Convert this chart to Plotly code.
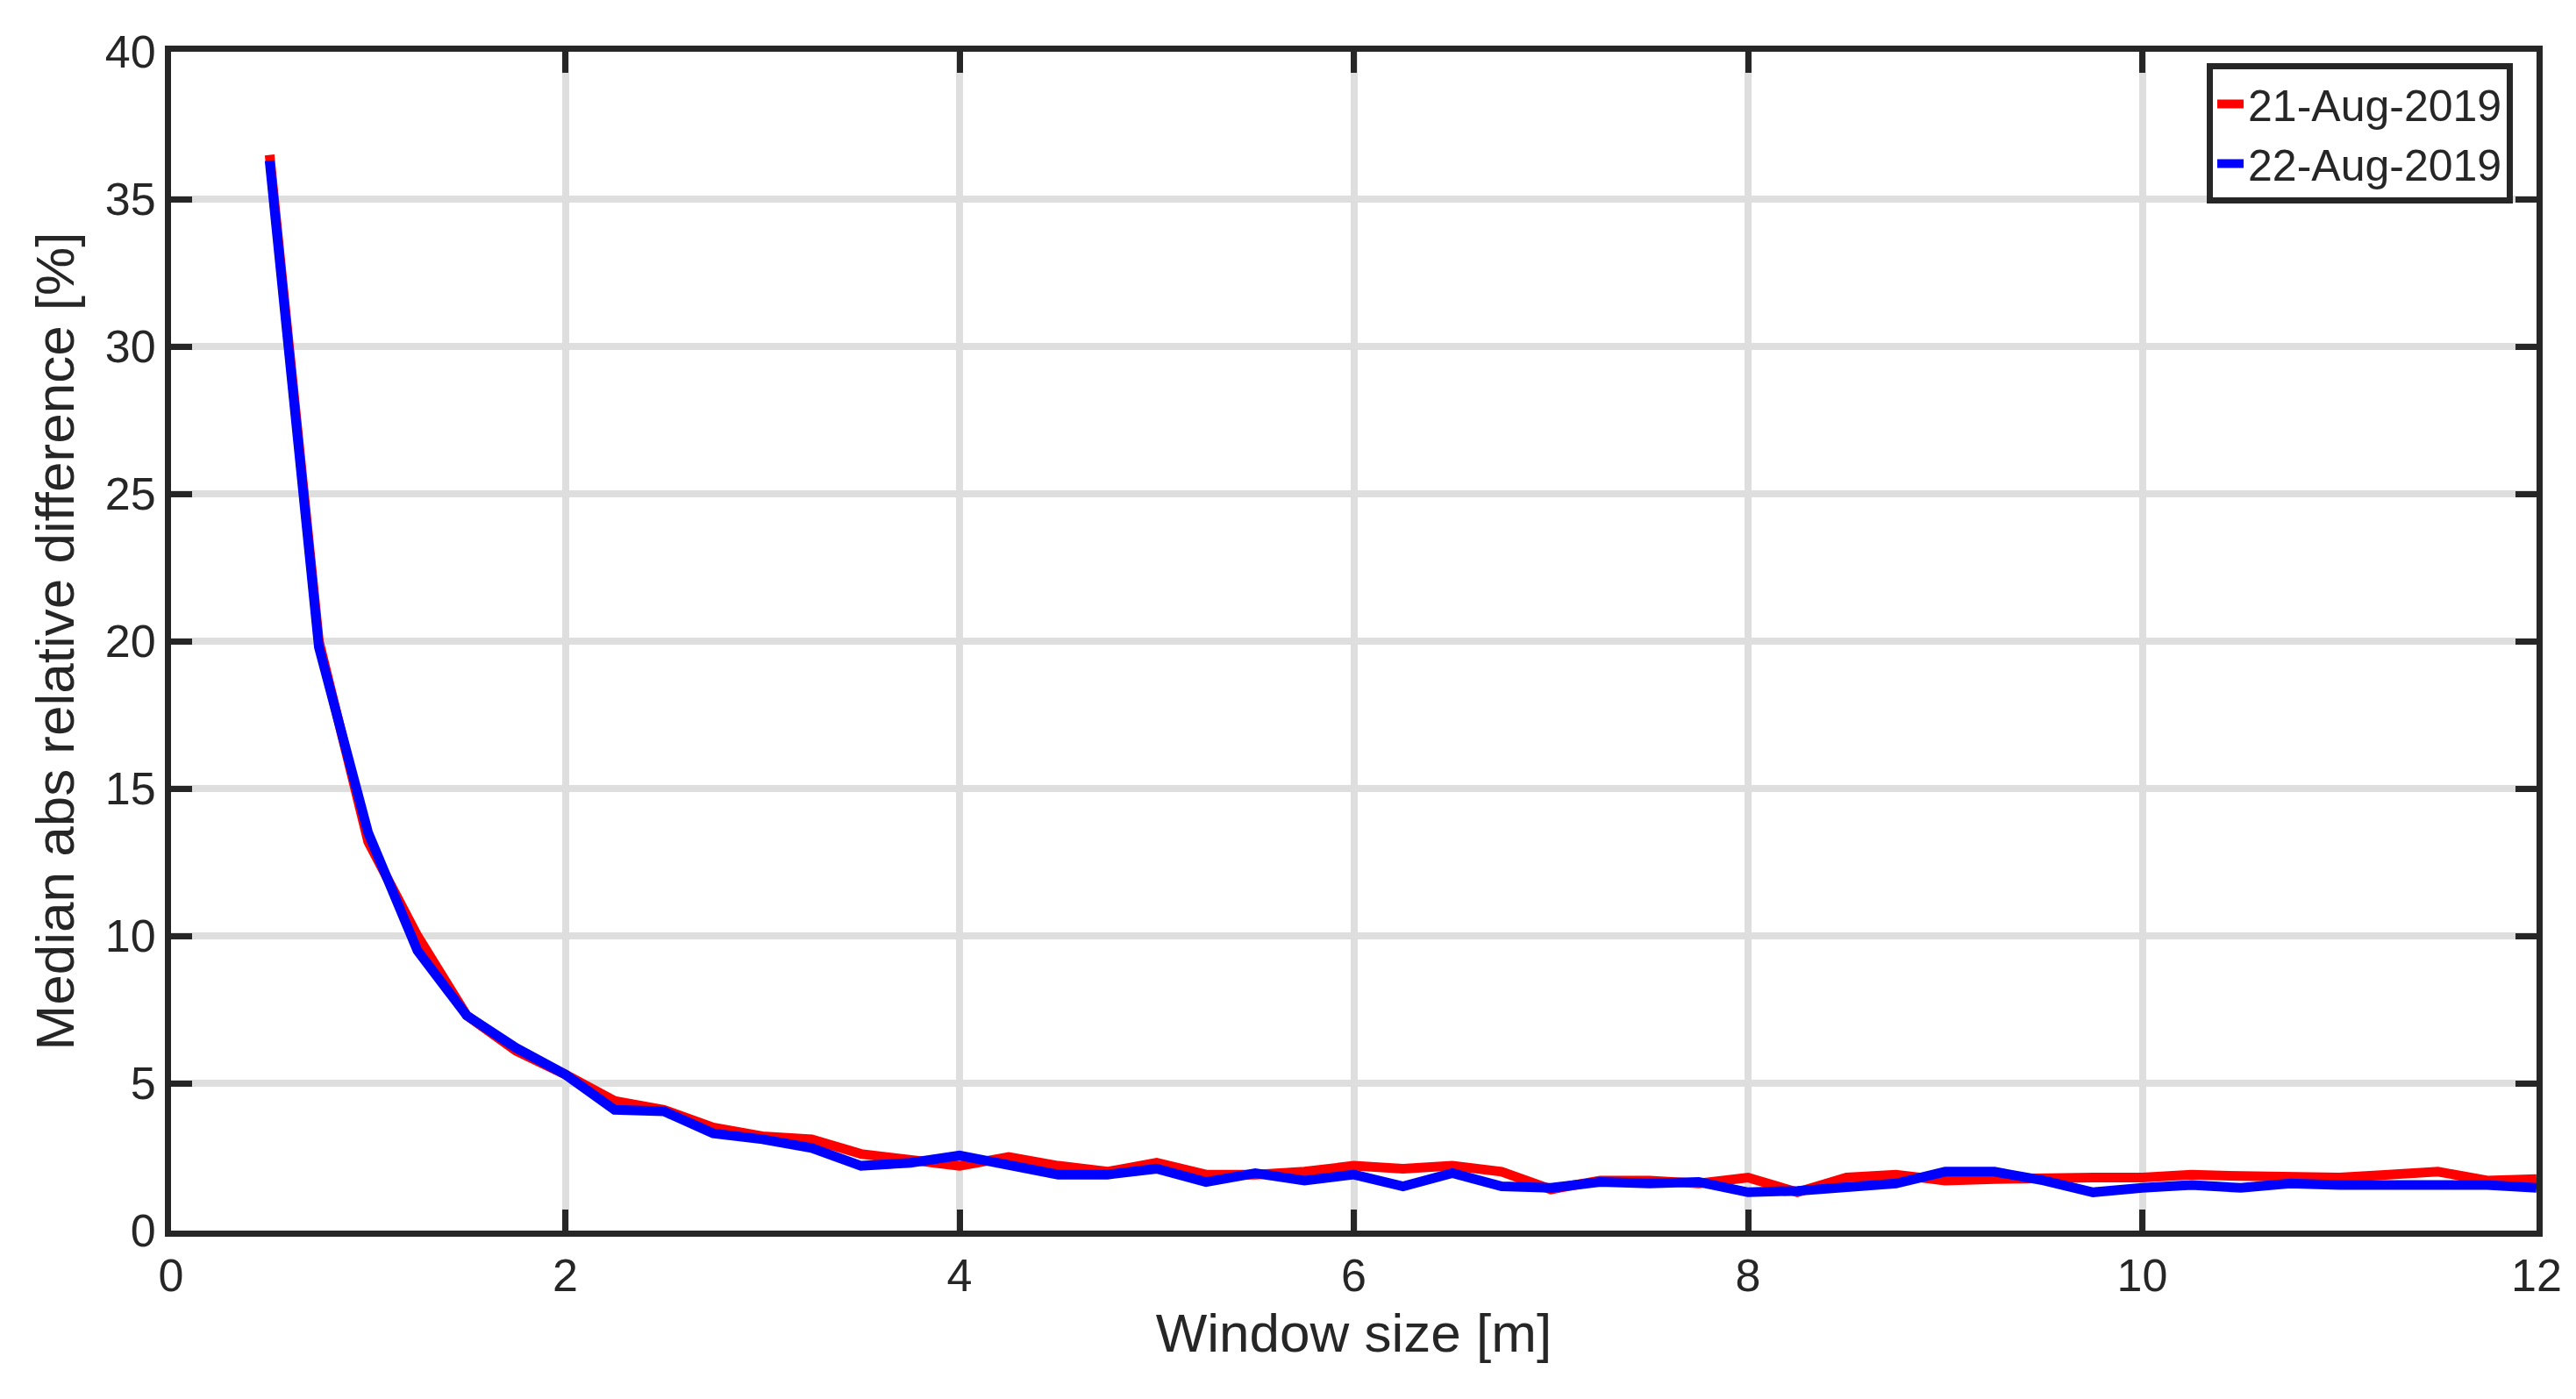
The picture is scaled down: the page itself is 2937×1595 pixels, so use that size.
import plotly.graph_objects as go

window = [0.5 + 0.25 * i for i in range(47)]
aug21 = [36.5, 20, 13.2, 10, 7.3, 6.1, 5.3, 4.4, 4.1, 3.5, 3.2, 3.1, 2.6, 2.4, 2.2, 2.5, 2.2, 2.0, 2.3, 1.9,
         1.9, 2.0, 2.2, 2.1, 2.2, 2.0, 1.4, 1.7, 1.7, 1.6, 1.8, 1.3, 1.8, 1.9, 1.7, 1.75, 1.8, 1.8, 1.8, 1.9,
         1.85, 1.85, 1.8, 1.9, 2.0, 1.7, 1.75]
aug22 = [36.3, 19.8, 13.5, 9.5, 7.3, 6.2, 5.3, 4.1, 4.05, 3.3, 3.1, 2.8, 2.2, 2.3, 2.55, 2.2, 1.9, 1.9, 2.1, 1.65,
         1.95, 1.7, 1.9, 1.5, 1.95, 1.5, 1.45, 1.65, 1.6, 1.65, 1.3, 1.35, 1.5, 1.6, 2.0, 2.0, 1.7, 1.3, 1.45, 1.55,
         1.45, 1.6, 1.55, 1.55, 1.6, 1.55, 1.45]

fig = go.Figure()
fig.add_trace(go.Scatter(x=window, y=aug21, mode="lines", name="21-Aug-2019", line=dict(color="#ff0000", width=11)))
fig.add_trace(go.Scatter(x=window, y=aug22, mode="lines", name="22-Aug-2019", line=dict(color="#0000ff", width=11)))

ax = dict(showline=True, linecolor="#262626", linewidth=7, mirror="ticks", ticks="inside", ticklen=24,
          tickwidth=7, tickcolor="#262626", showgrid=True, gridcolor="#dedede", gridwidth=8, zeroline=False,
          tickfont=dict(size=52, color="#262626"))
fig.update_xaxes(range=[0, 12], dtick=2, title=dict(text="Window size [m]", font=dict(size=62, color="#262626"), standoff=18), **ax)
fig.update_yaxes(range=[0, 40], dtick=5, title=dict(text="Median abs relative difference [%]", font=dict(size=62, color="#262626"), standoff=18), **ax)
fig.update_layout(width=2937, height=1595, margin=dict(l=187, r=53, t=51, b=200),
                  plot_bgcolor="white", paper_bgcolor="white", font=dict(family="Liberation Sans"),
                  legend=dict(x=0.99, y=0.99, xanchor="right", yanchor="top", bgcolor="white",
                              bordercolor="#262626", borderwidth=7, font=dict(size=50, color="#262626")))
fig.write_html("out.html")
